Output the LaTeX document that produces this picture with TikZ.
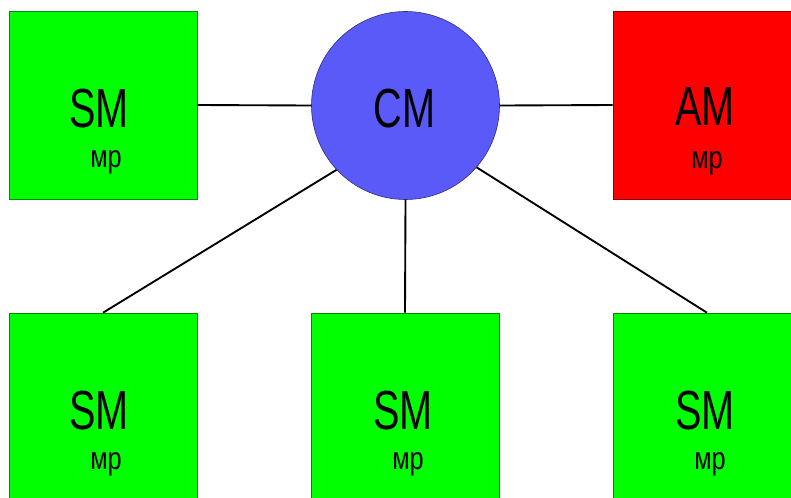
\documentclass[tikz,border=0pt]{standalone}
\usepackage{fontspec}
\setmainfont{Liberation Sans}
\newfontfamily\narrowsans[FakeStretch=0.72]{Liberation Sans}
\newfontfamily\mpsans[FakeStretch=0.8]{Liberation Sans}
\definecolor{smgreen}{HTML}{00FF00}
\definecolor{amred}{HTML}{FF0000}
\definecolor{cmblue}{HTML}{5A5AF8}
\tikzset{
    modbox/.style={rectangle, minimum size=5.64cm, fill=#1, draw=#1!55!black, line width=0.5pt, inner sep=0pt},
    bigname/.style={anchor=base, inner sep=0pt, font=\narrowsans\fontsize{47}{47}\selectfont},
    mpname/.style={anchor=base, inner sep=0pt, font=\mpsans\fontsize{27}{27}\selectfont},
    link/.style={line width=1.6pt, black}
}

\begin{document}
\begin{tikzpicture}[x=0.03cm, y=-0.03cm]
        \useasboundingbox (0, 0) rectangle (791, 497);
        \clip (0, 0) rectangle (791, 497);

        \node[modbox=smgreen] (smtl) at (103, 105) {};
        \node[modbox=amred] (am) at (707, 105) {};
        \node[modbox=smgreen] (smbl) at (103, 407) {};
        \node[modbox=smgreen] (smbm) at (405, 407) {};
        \node[modbox=smgreen] (smbr) at (707, 407) {};
        \node[circle, minimum size=5.64cm, fill=cmblue, draw=cmblue!50!black, line width=0.5pt] (cm) at (405.5, 105.5) {};

        \path (smtl.center) ++(-4, 22) node[bigname] (smtltxt) {SM};
        \path (smtl.center) ++(3, 62) node[mpname] (smtlmp) {мр};
        \path (am.center) ++(-2, 20) node[bigname] (amtxt) {AM};
        \path (am.center) ++(0, 63) node[mpname] (ammp) {мр};
        \path (smbl.center) ++(-4, 22) node[bigname] (smbltxt) {SM};
        \path (smbl.center) ++(3, 62) node[mpname] (smblmp) {мр};
        \path (smbm.center) ++(-2, 22) node[bigname] (smbmtxt) {SM};
        \path (smbm.center) ++(3, 62) node[mpname] (smbmmp) {мр};
        \path (smbr.center) ++(-2, 22) node[bigname] (smbrtxt) {SM};
        \path (smbr.center) ++(3, 62) node[mpname] (smbrmp) {мр};
        \path (cm.center) ++(-1, 22) node[bigname] (cmtxt) {CM};

        \draw[link] (smtl.east) -- (cm.west);
        \draw[link] (cm.east) -- (am.west);
        \draw[link] (cm.223) -- (smbl.north);
        \draw[link] (cm.south) -- (smbm.north);
        \draw[link] (cm.319) -- (smbr.north);
    \end{tikzpicture}
\end{document}
